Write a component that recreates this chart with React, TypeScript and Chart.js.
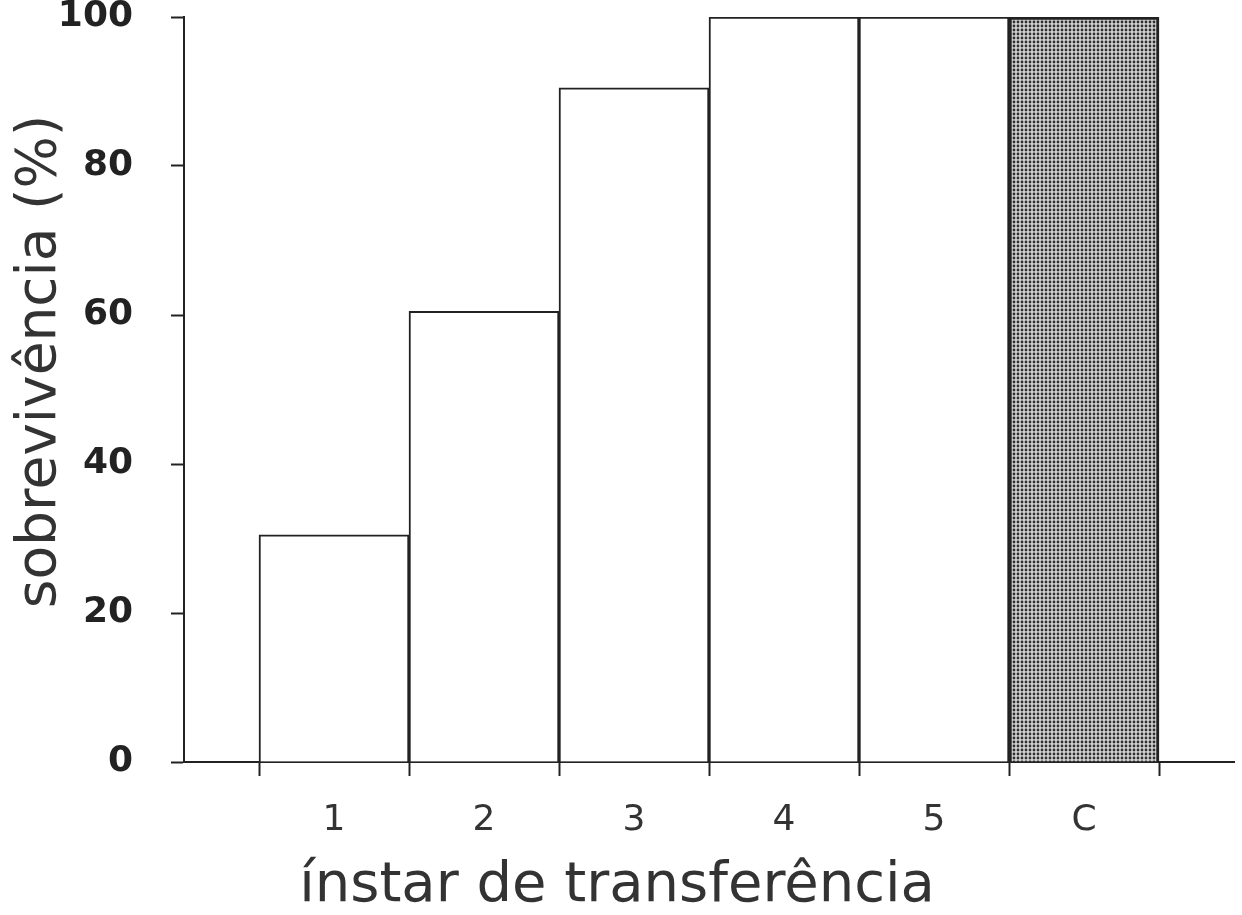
import React, { useEffect, useRef } from 'react';
import { Chart, registerables } from 'chart.js';

Chart.register(...registerables);

const categories = ['1', '2', '3', '4', '5', 'C'];
const survival = [30.5, 60.5, 90.5, 100, 100, 100];
const yTicks = [0, 20, 40, 60, 80, 100];
const xTitle = 'ínstar de transferência';
const yTitle = 'sobrevivência (%)';

const FONT = '"DejaVu Sans", Verdana, sans-serif';
const INK = '#222';

export default function App() {
  const canvasRef = useRef<HTMLCanvasElement | null>(null);

  useEffect(() => {
    const canvas = canvasRef.current;
    if (!canvas) return;
    const ctx = canvas.getContext('2d')!;

    const tile = document.createElement('canvas');
    tile.width = 4;
    tile.height = 4;
    const tg = tile.getContext('2d')!;
    tg.fillStyle = '#d2d2d2';
    tg.fillRect(0, 0, 4, 4);
    tg.fillStyle = '#303030';
    tg.beginPath();
    tg.arc(2, 2, 1.4, 0, Math.PI * 2);
    tg.fill();
    const pattern = ctx.createPattern(tile, 'repeat');

    const yTitlePlugin = {
      id: 'yTitlePlugin',
      afterDraw(chart: any) {
        const { ctx: c, chartArea } = chart;
        c.save();
        c.font = `normal 55px ${FONT}`;
        c.fillStyle = '#333';
        c.textAlign = 'center';
        c.textBaseline = 'middle';
        c.translate(chartArea.left - 143, (chartArea.top + chartArea.bottom) / 2 - 28);
        c.rotate(-Math.PI / 2);
        c.fillText(yTitle, 0, 0);
        c.restore();
      },
    };

    const chart = new Chart(ctx, {
      type: 'bar',
      data: {
        datasets: [
          {
            data: categories.map((_, i) => ({ x: i + 1, y: survival[i] })),
            backgroundColor: categories.map((c) => (c === 'C' ? (pattern as any) : '#ffffff')),
            borderColor: INK,
            borderWidth: categories.map((c) => (c === 'C' ? 3 : 2)),
            borderSkipped: 'bottom',
            barPercentage: 1,
            categoryPercentage: 1,
            xAxisID: 'x',
          } as any,
        ],
      },
      options: {
        animation: false,
        responsive: true,
        maintainAspectRatio: false,
        layout: { padding: { top: 17, right: 8, bottom: 1, left: 0 } },
        plugins: {
          legend: { display: false },
          tooltip: { enabled: false },
          title: {
            display: true,
            text: xTitle,
            position: 'bottom',
            color: '#333',
            padding: 0,
            font: { family: FONT, size: 56, weight: 'normal', lineHeight: 1 },
          },
        },
        scales: {
          x: {
            type: 'linear',
            position: 'bottom',
            min: 0,
            max: 7,
            offset: false,
            afterBuildTicks: (s: any) => {
              const t: { value: number }[] = [];
              for (let i = 0; i <= categories.length; i++) t.push({ value: i + 0.5 });
              s.ticks = t;
            },
            afterFit: (s: any) => {
              s.height = 16;
              s.paddingLeft = 0;
              s.paddingRight = 0;
            },
            ticks: {
              autoSkip: false,
              maxRotation: 0,
              padding: 0,
              display: true,
              callback: () => '',
            },
            grid: {
              offset: false,
              drawOnChartArea: false,
              drawTicks: true,
              tickLength: 14,
              tickWidth: 2,
              tickColor: INK,
            },
            border: { display: true, color: INK, width: 2 },
          },
          x2: {
            type: 'linear',
            position: 'bottom',
            min: 0,
            max: 7,
            offset: false,
            afterBuildTicks: (s: any) => {
              s.ticks = categories.map((_, i) => ({ value: i + 1 }));
            },
            afterFit: (s: any) => {
              s.height = 80;
              s.paddingLeft = 0;
              s.paddingRight = 0;
            },
            ticks: {
              autoSkip: false,
              maxRotation: 0,
              padding: 21,
              color: '#333',
              font: { family: FONT, size: 36, weight: 'normal' },
              callback: (v: any) => categories[Math.round(v) - 1] ?? '',
            },
            grid: { display: false, drawTicks: false },
            border: { display: false },
          },
          y: {
            min: 0,
            max: 100,
            afterBuildTicks: (s: any) => {
              s.ticks = yTicks.map((v) => ({ value: v }));
            },
            afterFit: (s: any) => {
              s.width = 184;
              s.paddingTop = 0;
              s.paddingBottom = 0;
            },
            ticks: {
              padding: 38,
              color: INK,
              font: { family: FONT, size: 36, weight: 'bold', lineHeight: 1 },
            },
            grid: {
              drawOnChartArea: false,
              drawTicks: true,
              tickLength: 13,
              tickWidth: 2,
              tickColor: INK,
            },
            border: { display: true, color: INK, width: 2 },
          },
        },
      } as any,
      plugins: [yTitlePlugin],
    });

    return () => chart.destroy();
  }, []);

  return (
    <div style={{ position: 'absolute', left: 0, top: 0, width: 1242, height: 915 }}>
      <canvas ref={canvasRef} />
    </div>
  );
}
